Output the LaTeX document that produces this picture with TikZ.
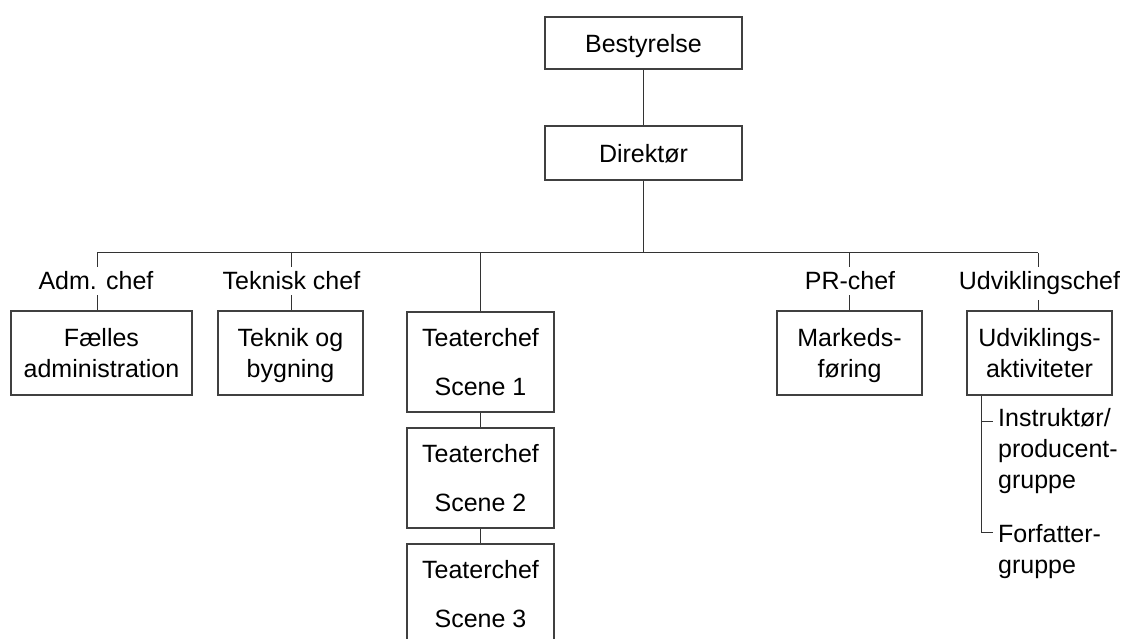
\documentclass[tikz,border=0pt]{standalone}
\usepackage{fontspec}
\setmainfont{Liberation Sans}
\begin{document}
\begin{tikzpicture}[x=1pt,y=-1pt,
  txt/.style={font=\fontsize{25}{31}\selectfont, text=black},
  box/.style={txt, draw=black!75, line width=1.1pt, align=center, inner sep=0pt, text depth=0pt, minimum width=145pt, minimum height=84pt},
  tbox/.style={box, minimum width=147pt, minimum height=100pt},
  lab/.style={txt, fill=white, inner xsep=2pt, inner ysep=5pt, anchor=base},
  sub/.style={txt, align=left, inner sep=0pt, anchor=base west},
  conn/.style={draw=black!80, line width=1pt}]
\useasboundingbox (0,0) rectangle (1125,639);
% top
\node[box, minimum width=197pt, minimum height=52pt] (best) at (643.5,43) {Bestyrelse};
\node[box, minimum width=197pt, minimum height=54pt] (dir) at (643.5,153) {Direktør};
\coordinate (bar) at (643.5,253);
\coordinate (b1) at (97,253);
\coordinate (b2) at (291,253);
\coordinate (b3) at (480.5,253);
\coordinate (b4) at (849,253);
\coordinate (b5) at (1038,253);
% boxes
\node[box, minimum width=181pt] (fa) at (101.5,353) {Fælles\\administration};
\node[box] (tek) at (290.5,353) {Teknik og\\bygning};
\node[tbox] (tc1) at (480.5,362) {Teaterchef\\[18pt]Scene 1};
\node[tbox] (tc2) at (480.5,478) {Teaterchef\\[18pt]Scene 2};
\node[tbox] (tc3) at (480.5,594) {Teaterchef\\[18pt]Scene 3};
\node[box] (mf) at (849.5,353) {Markeds-\\føring};
\node[box] (ud) at (1039.5,353) {Udviklings-\\aktiviteter};
% connectors
\draw[conn] (best.south) -- (dir.north);
\draw[conn] (dir.south) -- (bar);
\draw[conn] (b1) -- (b5);
\draw[conn] (b1) -- (b1 |- fa.north);
\draw[conn] (b2) -- (b2 |- tek.north);
\draw[conn] (b3) -- (tc1.north);
\draw[conn] (b4) -- (b4 |- mf.north);
\draw[conn] (b5) -- (b5 |- ud.north);
\draw[conn] (tc1.south) -- (tc2.north);
\draw[conn] (tc2.south) -- (tc3.north);
% labels
\node[lab] (l1) at (96,290) {Adm. chef};
\node[lab] (l2) at (291.5,290) {Teknisk chef};
\node[lab] (l4) at (850,290) {PR-chef};
\node[lab] (l5) at (1039.5,290) {Udviklingschef};
% sub groups
\node[sub] (ins) at (998,488) {Instruktør/\\producent-\\gruppe};
\node[sub] (ff) at (998,573) {Forfatter-\\gruppe};
\coordinate (s0) at (981,0);
\coordinate (t1) at (981,421);
\coordinate (t2) at (981,532);
\draw[conn] (s0 |- ud.south) -- (t2) -- ([xshift=-5pt]ff.west |- t2);
\draw[conn] (t1) -- ([xshift=-5pt]ins.west |- t1);
\end{tikzpicture}
\end{document}
